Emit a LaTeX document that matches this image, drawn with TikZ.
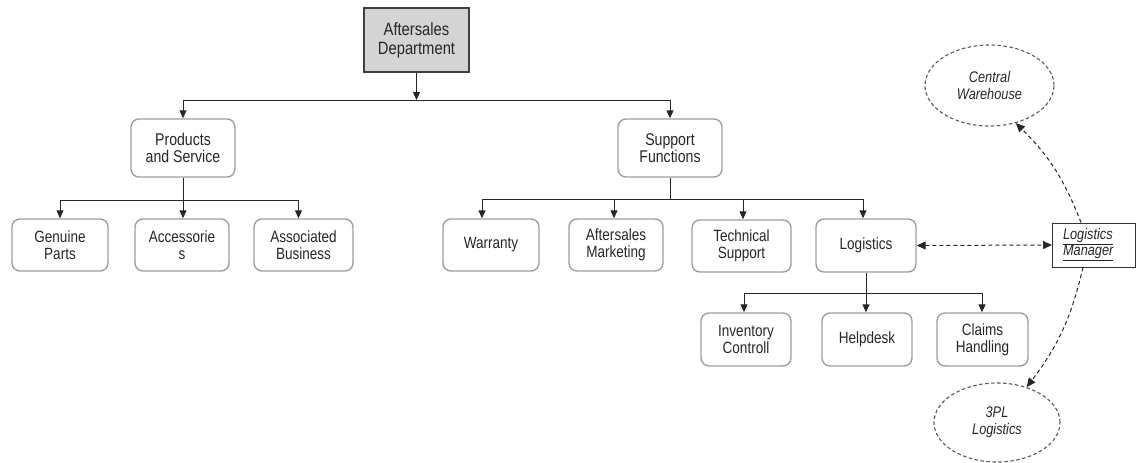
\documentclass[tikz,border=0pt]{standalone}
\usepackage{fontspec}
\setmainfont{Liberation Sans}[FakeStretch=0.83]
\usetikzlibrary{arrows.meta,shapes.geometric,calc}
\begin{document}
\begin{tikzpicture}[x=1pt,y=-1pt,
  box/.style={draw=black!38, line width=1.4pt, rounded corners=8pt, align=center,
    inner sep=0pt, text=black!85, font=\fontsize{16.3}{17}\selectfont},
  topbox/.style={draw=black!75, fill=black!17, line width=1.2pt, align=center,
    inner sep=0pt, text=black!85, font=\fontsize{17.8}{19}\selectfont},
  mgrbox/.style={draw=black!80, line width=1pt, align=left, inner xsep=10.5pt,
    text width=62pt, minimum height=44pt, text=black!85,
    font=\itshape\fontsize{15.4}{16}\selectfont},
  eli/.style={ellipse, draw=black!65, line width=1.1pt, dash pattern=on 3.5pt off 2.5pt,
    align=center, inner sep=0pt, text=black!85, font=\itshape\fontsize{15.4}{17}\selectfont},
  conn/.style={draw=black!85, line width=1pt},
  arr/.style={conn, -{Triangle[length=8pt,width=7pt]}},
  dline/.style={draw=black!85, line width=1pt, dash pattern=on 4pt off 3pt},
  darr/.style={dline, -{Triangle[length=9pt,width=8pt]}},
  dboth/.style={dline, {Triangle[length=9pt,width=8pt]}-{Triangle[length=9pt,width=8pt]}}
]
\useasboundingbox (0,0) rectangle (1136,463);

% nodes
\node[topbox, minimum width=105pt, minimum height=64pt] (ad) at (416.5,40) {Aftersales\\Department};
\node[box, minimum width=104pt, minimum height=58pt, font=\fontsize{17}{17.5}\selectfont] (ps) at (183,148) {Products\\and Service};
\node[box, minimum width=104pt, minimum height=58pt, font=\fontsize{17}{17.5}\selectfont] (sf) at (670,148) {Support\\Functions};

\node[box, minimum width=96pt, minimum height=52pt] (gp) at (60,245) {Genuine\\Parts};
\node[box, minimum width=94pt, minimum height=52pt] (ac) at (182,245) {Accessorie\\s};
\node[box, minimum width=99pt, minimum height=52pt] (ab) at (303.5,245) {Associated\\Business};

\node[box, minimum width=96pt, minimum height=52pt] (wa) at (491,245) {Warranty};
\node[box, minimum width=94pt, minimum height=52pt] (am) at (616,245) {Aftersales\\Marketing};
\node[box, minimum width=99pt, minimum height=52pt] (ts) at (741.5,246) {Technical\\Support};
\node[box, minimum width=100pt, minimum height=53pt] (lg) at (866,245.5) {Logistics};

\node[box, minimum width=90pt, minimum height=53pt] (ic) at (746,339.5) {Inventory\\Controll};
\node[box, minimum width=90pt, minimum height=53pt] (hd) at (867,339.5) {Helpdesk};
\node[box, minimum width=91pt, minimum height=53pt] (ch) at (982.5,339.5) {Claims\\Handling};

\node[mgrbox] (lm) at (1094,245) {\underline{Logistics}\\\underline{Manager}};

\node[eli, minimum width=129pt, minimum height=81pt] (cw) at (989.5,85.5) {Central\\Warehouse};
\node[eli, minimum width=126pt, minimum height=79pt] (tp) at (997,422.5) {3PL\\Logistics};

% bar coordinates
\coordinate (bar1) at (0,100);
\coordinate (bar2) at (0,200);
\coordinate (bar3) at (0,199);
\coordinate (bar4) at (0,293);

% level 1
\draw[arr] (ad.south) -- (ad.south |- bar1);
\draw[arr] (ad.south |- bar1) -| (ps.north);
\draw[arr] (ad.south |- bar1) -| (sf.north);

% products
\draw[arr] (ps.south) -- (ps.south |- ac.north);
\draw[arr] (ps.south |- bar2) -| (gp.north);
\draw[arr] (ps.south |- bar2) -| ([xshift=-5pt]ab.north);

% support
\draw[conn] (sf.south) -- (sf.south |- bar3);
\draw[arr] (sf.south |- bar3) -| ([xshift=-9pt]wa.north);
\draw[arr] (sf.south |- bar3) -| ([xshift=-2pt]am.north);
\draw[arr] (sf.south |- bar3) -| ([xshift=1.5pt]ts.north);
\draw[arr] (sf.south |- bar3) -| ([xshift=-3pt]lg.north);

% logistics
\draw[arr] (lg.south) -- (lg.south |- hd.north);
\draw[arr] (lg.south |- bar4) -| ([xshift=-2pt]ic.north);
\draw[arr] (lg.south |- bar4) -| ([xshift=-0.5pt]ch.north);

% dashed links
\draw[dboth] (lg.east) -- (lm.west);
\draw[darr] ([xshift=-13pt]lm.north) to[bend right=12] (cw.-55);
\draw[darr] ([xshift=-11pt]lm.south) to[bend left=12] (tp.50);
\end{tikzpicture}
\end{document}
